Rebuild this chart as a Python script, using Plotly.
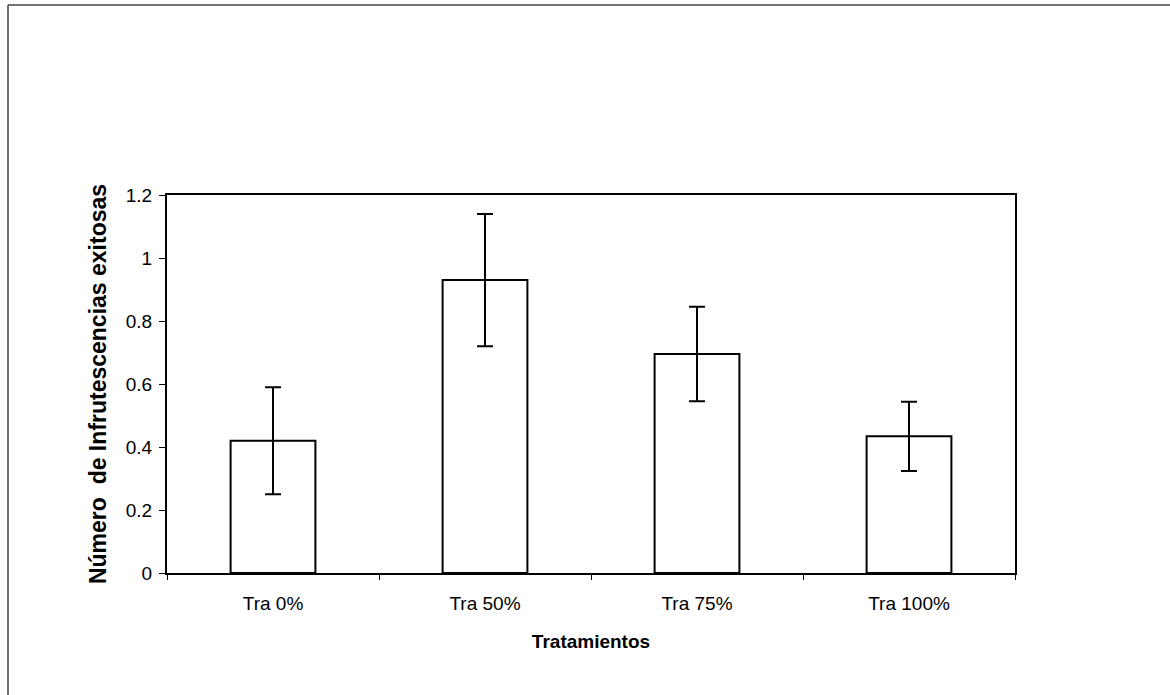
import plotly.graph_objects as go

categories = ["Tra 0%", "Tra 50%", "Tra 75%", "Tra 100%"]
means = [0.42, 0.93, 0.695, 0.434]
errors = [0.17, 0.21, 0.15, 0.11]
y_ticks = [0, 0.2, 0.4, 0.6, 0.8, 1.0, 1.2]
y_tick_text = ["0", "0.2", "0.4", "0.6", "0.8", "1", "1.2"]

FONT = "Liberation Sans, Arial, sans-serif"

fig = go.Figure(
    go.Bar(
        x=categories,
        y=means,
        marker=dict(color="white", line=dict(color="black", width=2)),
        error_y=dict(type="data", array=errors, visible=True,
                     color="black", thickness=2, width=8),
        width=0.4,
    )
)

W, H = 1170, 695
L, R, T, B = 167, 1015, 195, 573

fig.update_layout(
    width=W, height=H,
    margin=dict(l=L, r=W - R, t=T, b=H - B, autoexpand=False),
    paper_bgcolor="white",
    plot_bgcolor="white",
    showlegend=False,
    font=dict(family=FONT, size=19, color="black"),
    xaxis=dict(
        showline=True, linecolor="black", linewidth=2, mirror=True,
        ticks="outside", ticklen=5, tickcolor="black", tickson="boundaries",
        tickfont=dict(size=19), ticklabelstandoff=12,
        title=dict(text="<b>Tratamientos</b>", font=dict(size=19), standoff=22),
        showgrid=False,
    ),
    yaxis=dict(
        range=[0, 1.2],
        tickvals=y_ticks, ticktext=y_tick_text,
        showline=True, linecolor="black", linewidth=2, mirror=True,
        ticks="outside", ticklen=6, tickcolor="black",
        tickfont=dict(size=19), ticklabelstandoff=3,
        title=dict(text="<b>Número  de Infrutescencias exitosas</b>", font=dict(size=23), standoff=13),
        showgrid=False, zeroline=False,
    ),
)

# outer page frame (scanned page border)
def px2paper_x(px):
    return (px - L) / (R - L)

def px2paper_y(py):
    return (B - py) / (B - T)

fig.add_shape(type="line", xref="paper", yref="paper",
              x0=px2paper_x(8), x1=px2paper_x(8), y0=px2paper_y(5), y1=px2paper_y(700),
              line=dict(color="#444", width=1.5))
fig.add_shape(type="line", xref="paper", yref="paper",
              x0=px2paper_x(8), x1=px2paper_x(1175), y0=px2paper_y(5), y1=px2paper_y(5),
              line=dict(color="#444", width=1.5))

fig.write_html(
    "out.html",
    config={"displayModeBar": False},
    post_script="document.body.style.margin='0px';document.body.style.overflow='hidden';",
)
